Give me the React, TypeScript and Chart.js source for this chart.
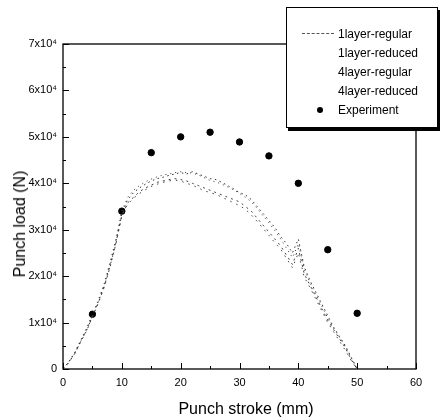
import React, { useEffect, useRef } from "react";
import { Chart, registerables } from "chart.js";

Chart.register(...registerables);

const strokeX = [0,1,2,3,4,5,6,7,8,9,10,11,12,13,14,15,16,17,18,19,20,21,22,23,24,25,26,27,28,29,30,31,32,33,34,35,36,37,38,39,40,41,42,43,44,45,46,47,48,49,50];

const oneLayerRegular = [0,1500,3500,6000,8500,11500,14500,18000,22500,27500,33500,36500,38000,39000,39800,40500,41000,41300,41700,42000,42300,42000,42500,42000,41500,41000,40800,40200,39500,38800,38000,37500,36500,35000,33500,32000,30500,28500,27000,25000,28000,22000,19000,16500,14000,11500,9000,7000,5000,2500,0];
const oneLayerReduced = [0,1400,3300,5800,8200,11200,14200,17600,22000,27000,33000,35800,37000,38200,39000,39600,40200,40500,40800,41000,40800,40500,40000,39500,39000,38500,38000,37500,37000,36500,36000,35000,34000,32500,31000,29500,28000,26500,24500,22500,26000,20500,18000,15500,13000,10500,8500,6500,4500,2000,0];
const fourLayerRegular = [0,1600,3600,6200,8800,11800,14800,18400,23000,28000,34000,37000,38500,39500,40300,40900,41400,41800,42000,42300,42500,42300,42200,41800,41200,40600,40300,39800,39200,38600,37800,37000,36000,34600,33000,31500,29800,28000,26000,24000,27000,21500,18500,16000,13500,11000,8800,6800,4800,2300,0];
const fourLayerReduced = [0,1450,3400,5900,8300,11300,14300,17800,22200,27200,33200,35500,36800,37800,38600,39300,39800,40200,40500,40700,40500,40000,39600,39000,38400,38000,37600,37000,36400,35800,35200,34400,33200,31800,30300,28800,27200,25800,23800,21800,25000,19800,17500,15000,12500,10000,8000,6000,4000,1800,0];

const expStroke = [5,10,15,20,25,30,35,40,45,50];
const expLoad = [11800,34000,46600,50000,51000,48900,45900,40000,25700,12000];

const seriesNames = ["1layer-regular", "1layer-reduced", "4layer-regular", "4layer-reduced", "Experiment"];

const yTickLabels = ["0", "1x10⁴", "2x10⁴", "3x10⁴", "4x10⁴", "5x10⁴", "6x10⁴", "7x10⁴"];
const xTickLabels = ["0", "10", "20", "30", "40", "50", "60"];

const xTitle = "Punch stroke (mm)";
const yTitle = "Punch load (N)";

const FONT = "'Liberation Sans', Arial, sans-serif";

const framePlugin = {
  id: "frameTicks",
  afterDraw(chart: any) {
    const { ctx, chartArea } = chart;
    const xs = chart.scales.x;
    const ys = chart.scales.y;
    ctx.save();
    ctx.strokeStyle = "#000";
    ctx.lineWidth = 1.3;
    ctx.strokeRect(chartArea.left, chartArea.top, chartArea.right - chartArea.left, chartArea.bottom - chartArea.top);
    ctx.lineWidth = 1;
    ctx.beginPath();
    for (let v = 0; v <= 60; v += 5) {
      const px = Math.round(xs.getPixelForValue(v)) + 0.5;
      const len = v % 10 === 0 ? 6 : 3;
      ctx.moveTo(px, chartArea.bottom);
      ctx.lineTo(px, chartArea.bottom - len);
    }
    for (let v = 0; v <= 70000; v += 5000) {
      const py = Math.round(ys.getPixelForValue(v)) + 0.5;
      const len = v % 10000 === 0 ? 6 : 3;
      ctx.moveTo(chartArea.left, py);
      ctx.lineTo(chartArea.left + len, py);
    }
    ctx.stroke();
    ctx.restore();
  },
};

function ChartView() {
  const ref = useRef<HTMLCanvasElement | null>(null);
  useEffect(() => {
    if (!ref.current) return;
    const mk = (ys: number[]) => strokeX.map((x, i) => ({ x, y: ys[i] }));
    const lineDs = (label: string, ys: number[], dash: number[], color: string) => ({
      type: "line" as const,
      label,
      data: mk(ys),
      borderColor: color,
      borderWidth: 1,
      borderDash: dash,
      pointRadius: 0,
      fill: false,
      tension: 0,
    });
    const chart = new Chart(ref.current, {
      type: "scatter",
      data: {
        datasets: [
          lineDs(seriesNames[0], oneLayerRegular, [1.5, 3.5], "#333"),
          lineDs(seriesNames[1], oneLayerReduced, [2, 4], "#444"),
          lineDs(seriesNames[2], fourLayerRegular, [1, 4], "#333"),
          lineDs(seriesNames[3], fourLayerReduced, [1.5, 5], "#444"),
          {
            type: "scatter" as const,
            label: seriesNames[4],
            data: expStroke.map((x, i) => ({ x, y: expLoad[i] })),
            backgroundColor: "#000",
            borderColor: "#000",
            pointRadius: 3.2,
          },
        ] as any,
      },
      options: {
        animation: false,
        responsive: false,
        layout: { padding: { left: 0, right: 25, top: 44, bottom: 0 } },
        plugins: { legend: { display: false }, tooltip: { enabled: false } },
        scales: {
          x: {
            type: "linear",
            min: 0,
            max: 60,
            grid: { display: false, drawTicks: false },
            border: { display: false },
            afterFit: (s: any) => { s.height = 50; },
            ticks: {
              stepSize: 10,
              padding: 7,
              color: "#000",
              font: { family: FONT, size: 11 },
              callback: (v: any) => xTickLabels[Math.round(Number(v) / 10)] ?? "",
            },
          },
          y: {
            type: "linear",
            min: 0,
            max: 70000,
            grid: { display: false, drawTicks: false },
            border: { display: false },
            afterFit: (s: any) => { s.width = 63; },
            ticks: {
              stepSize: 10000,
              padding: 6,
              color: "#000",
              font: { family: FONT, size: 11 },
              callback: (v: any) => yTickLabels[Math.round(Number(v) / 10000)] ?? "",
            },
          },
        },
      },
      plugins: [framePlugin],
    });
    return () => chart.destroy();
  }, []);
  return <canvas ref={ref} width={441} height={419} style={{ display: "block", width: 441, height: 419 }} />;
}

function Legend() {
  const row = (i: number) => (
    <div key={i} style={{ position: "absolute", left: 0, top: 17 + i * 19, height: 19, width: 150 }}>
      {i === 0 && (
        <div style={{ position: "absolute", left: 15, top: 8, width: 32, borderTop: "1px dashed #555" }} />
      )}
      {i === 4 && (
        <div style={{ position: "absolute", left: 30, top: 6, width: 6, height: 6, borderRadius: 3, background: "#000" }} />
      )}
      <span style={{ position: "absolute", left: 51, top: 1, fontSize: 12, lineHeight: "16px", whiteSpace: "nowrap" }}>
        {seriesNames[i]}
      </span>
    </div>
  );
  return (
    <div
      style={{
        position: "absolute",
        left: 286,
        top: 7,
        width: 150,
        height: 119,
        border: "1px solid #000",
        boxShadow: "2px 3px 0 #000",
        background: "#fff",
        fontFamily: FONT,
        color: "#000",
      }}
    >
      {[0, 1, 2, 3, 4].map(row)}
    </div>
  );
}

export default function App() {
  return (
    <div style={{ position: "fixed", left: 0, top: 0, width: 441, height: 419, background: "#fff", overflow: "hidden" }}>
      <ChartView />
      <div
        style={{
          position: "absolute",
          left: 246,
          top: 409,
          transform: "translate(-50%, -50%)",
          fontFamily: FONT,
          fontSize: 16,
          lineHeight: "18px",
          whiteSpace: "nowrap",
          color: "#000",
        }}
      >
        {xTitle}
      </div>
      <div
        style={{
          position: "absolute",
          left: 20,
          top: 224,
          transform: "translate(-50%, -50%) rotate(-90deg)",
          fontFamily: FONT,
          fontSize: 16,
          lineHeight: "18px",
          whiteSpace: "nowrap",
          color: "#000",
        }}
      >
        {yTitle}
      </div>
      <Legend />
    </div>
  );
}
